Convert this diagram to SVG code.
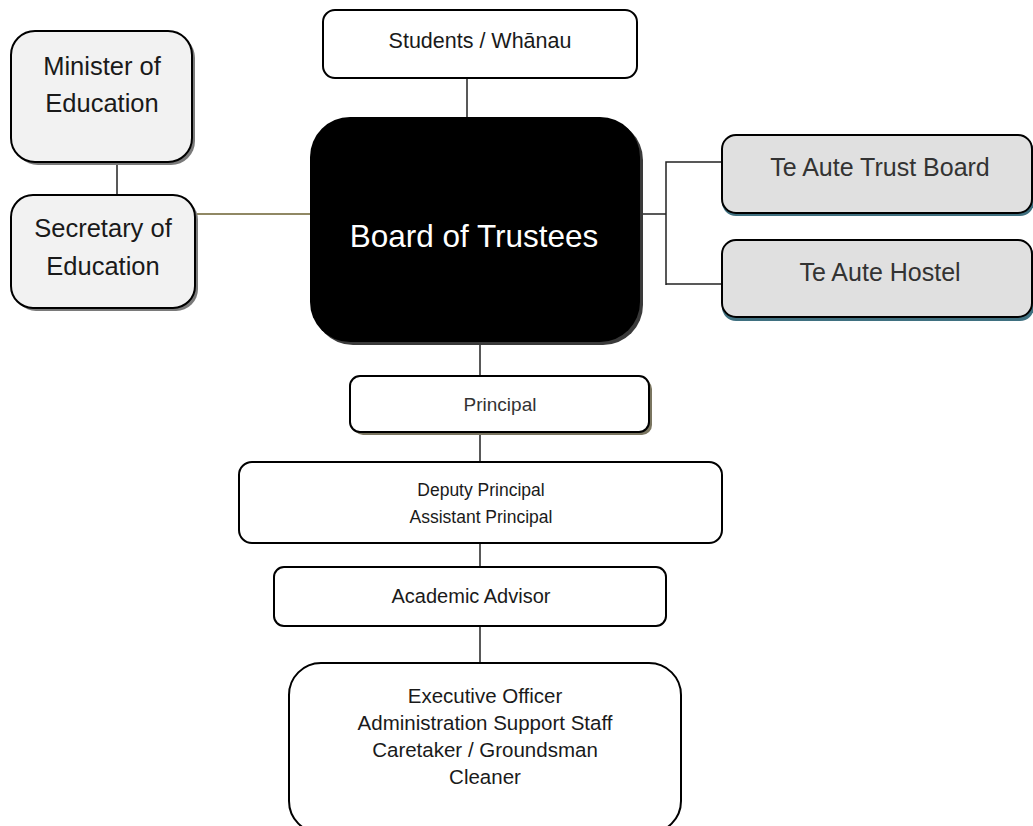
<svg xmlns="http://www.w3.org/2000/svg" width="1033" height="826" viewBox="0 0 1033 826">
<style>
text{font-family:"Liberation Sans","Open Sans",Arial,sans-serif;text-anchor:middle;fill:#1a1a1a}
.box{stroke:#000;stroke-width:2}
.edge{stroke:#222;stroke-width:1.5;fill:none}
</style>
<rect width="1033" height="826" fill="#fff"/>
<g id="connectors">
<line class="edge" x1="117" y1="162" x2="117" y2="195"/>
<line x1="197" y1="214" x2="310" y2="214" stroke="#6b6030" stroke-width="1.5"/>
<line class="edge" x1="467" y1="79" x2="467" y2="117"/>
<polyline class="edge" points="640,214 666,214"/>
<polyline class="edge" points="722,162 666,162 666,285"/>
<polyline class="edge" points="666,284 722,284"/>
<line class="edge" x1="480" y1="342" x2="480" y2="376"/>
<line class="edge" x1="480" y1="432" x2="480" y2="462"/>
<line class="edge" x1="480" y1="543" x2="480" y2="567"/>
<line class="edge" x1="480" y1="626" x2="480" y2="663"/>
</g>
<g id="minister">
<rect x="14" y="34" width="181" height="131" rx="24" fill="#7a7a7a"/>
<rect class="box" x="11" y="31" width="181" height="131" rx="24" fill="#f2f2f2"/>
<text x="102" y="75" font-size="25.5">Minister of</text>
<text x="102" y="112" font-size="25.5">Education</text>
</g>
<g id="secretary">
<rect x="14" y="198" width="184" height="113" rx="22" fill="#7a7a7a"/>
<rect class="box" x="11" y="195" width="184" height="113" rx="22" fill="#f2f2f2"/>
<text x="103" y="237" font-size="25.5">Secretary of</text>
<text x="103" y="275" font-size="25.5">Education</text>
</g>
<g id="students">
<rect class="box" x="323" y="10" width="314" height="68" rx="12" fill="#fff"/>
<text x="480" y="48" font-size="21.5">Students / Whānau</text>
</g>
<g id="board">
<rect x="313" y="120" width="330" height="225" rx="40" fill="#3a3a3a"/>
<rect x="310" y="117" width="330" height="225" rx="40" fill="#000"/>
<text x="474" y="247" font-size="31.5" style="fill:#fff">Board of Trustees</text>
</g>
<g id="trust-board">
<rect x="722" y="138" width="312" height="78" rx="14" fill="#3f7080"/>
<rect class="box" x="722" y="135" width="310" height="78" rx="14" fill="#e0e0e0"/>
<text x="880" y="176" font-size="25" style="fill:#333">Te Aute Trust Board</text>
</g>
<g id="hostel">
<rect x="722" y="243" width="312" height="78" rx="14" fill="#3f7080"/>
<rect class="box" x="722" y="240" width="310" height="77" rx="14" fill="#e0e0e0"/>
<text x="880" y="281" font-size="25" style="fill:#333">Te Aute Hostel</text>
</g>
<g id="principal">
<rect x="353" y="379" width="299" height="56" rx="10" fill="#7a7560"/>
<rect class="box" x="350" y="376" width="299" height="56" rx="10" fill="#fff"/>
<text x="500" y="411" font-size="19" style="fill:#333">Principal</text>
</g>
<g id="deputy">
<rect class="box" x="239" y="462" width="483" height="81" rx="13" fill="#fff"/>
<text x="481" y="496" font-size="17.5">Deputy Principal</text>
<text x="481" y="523" font-size="17.5">Assistant Principal</text>
</g>
<g id="academic">
<rect class="box" x="274" y="567" width="392" height="59" rx="10" fill="#fff"/>
<text x="471" y="603" font-size="20">Academic Advisor</text>
</g>
<g id="staff">
<rect class="box" x="289" y="663" width="392" height="170" rx="32" fill="#fff"/>
<text x="485" y="703" font-size="20.5">Executive Officer</text>
<text x="485" y="730" font-size="20.5">Administration Support Staff</text>
<text x="485" y="757" font-size="20.5">Caretaker / Groundsman</text>
<text x="485" y="784" font-size="20.5">Cleaner</text>
</g>
</svg>
